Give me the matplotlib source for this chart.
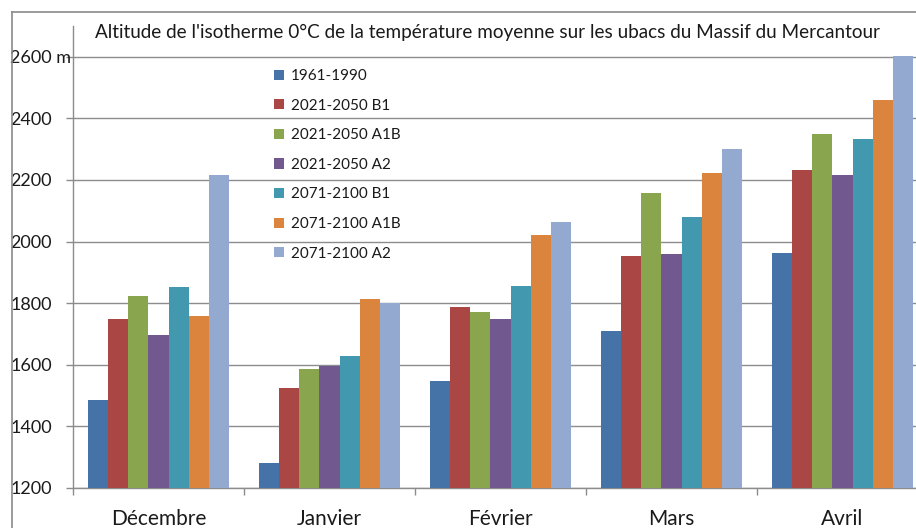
import numpy as np
import matplotlib
matplotlib.use("Agg")
import matplotlib.pyplot as plt
from matplotlib.lines import Line2D

plt.rcParams['font.family'] = ['Lato', 'DejaVu Sans']

months = ['Décembre', 'Janvier', 'Février', 'Mars', 'Avril']
series_names = ['1961-1990', '2021-2050 B1', '2021-2050 A1B', '2021-2050 A2',
                '2071-2100 B1', '2071-2100 A1B', '2071-2100 A2']

ref_1961_1990 = [1485, 1280, 1549, 1710, 1964]
b1_2021_2050 = [1749, 1526, 1789, 1952, 2233]
a1b_2021_2050 = [1823, 1586, 1770, 2159, 2350]
a2_2021_2050 = [1698, 1595, 1748, 1961, 2217]
b1_2071_2100 = [1851, 1629, 1855, 2080, 2334]
a1b_2071_2100 = [1757, 1813, 2020, 2222, 2460]
a2_2071_2100 = [2215, 1800, 2063, 2302, 2603]

series = [ref_1961_1990, b1_2021_2050, a1b_2021_2050, a2_2021_2050,
          b1_2071_2100, a1b_2071_2100, a2_2071_2100]
colors = ['#4572A7', '#AA4643', '#89A54E', '#71588F', '#4198AF', '#DB843D', '#93A9CF']

y_ticks = [1200, 1400, 1600, 1800, 2000, 2200, 2400, 2600]

W, H = 916, 528
fig = plt.figure(figsize=(W / 100, H / 100), dpi=100)
ax = fig.add_axes([73 / W, (H - 488) / H, (928 - 73) / W, 462 / H])

grid_col = '#8c8c8c'
text_col = '#1a1a1a'

# clustered bars, gap width 150% like a spreadsheet chart
n = len(series)
bw = 1.0 / (n + 1.5)
x = np.arange(len(months))
for i, vals in enumerate(series):
    offs = (i - (n - 1) / 2) * bw
    ax.bar(x + offs, np.array(vals) - 1200, bw, bottom=1200, color=colors[i],
           label=series_names[i], zorder=3, linewidth=0)

ax.set_xlim(-0.5, len(months) - 0.5)
ax.set_ylim(1200, 2700)
ax.set_yticks(y_ticks)
ax.set_yticklabels([str(v) + ' m' if v == 2600 else str(v) for v in y_ticks])
ax.yaxis.grid(True, color=grid_col, linewidth=1.0, zorder=0)

ax.set_xticks(np.arange(len(months) + 1) - 0.5)
ax.set_xticklabels([])
ax.set_xticks(x, minor=True)
ax.set_xticklabels(months, minor=True, fontsize=15, color=text_col)
ax.tick_params(axis='x', which='major', length=5, color=grid_col, width=1)
ax.tick_params(axis='x', which='minor', length=0, pad=15)
ax.tick_params(axis='y', length=5, color=grid_col, width=1, pad=40,
               labelsize=13, labelcolor=text_col)
for lbl in ax.get_yticklabels():
    lbl.set_ha('left')

for s in ['top', 'right']:
    ax.spines[s].set_visible(False)
for s in ['left', 'bottom']:
    ax.spines[s].set_color(grid_col)
    ax.spines[s].set_linewidth(1.0)

fig.text(487 / W, 1 - 32 / H,
         "Altitude de l'isotherme 0°C de la température moyenne sur les ubacs du Massif du Mercantour",
         ha='center', va='center', fontsize=13.6, color=text_col)

leg = ax.legend(loc='upper left', bbox_to_anchor=(268 / W, 1 - 63 / H),
                bbox_transform=fig.transFigure, frameon=False, fontsize=11,
                handlelength=0.65, handleheight=0.65, handletextpad=0.45,
                labelspacing=1.02, borderaxespad=0)
for t in leg.get_texts():
    t.set_color(text_col)

# outer chart frame
fig.add_artist(Line2D([12 / W, 12 / W], [0, 1 - 12 / H], transform=fig.transFigure,
                      color='#8a8a8a', linewidth=1.2))
fig.add_artist(Line2D([12 / W, 1], [1 - 12 / H, 1 - 12 / H], transform=fig.transFigure,
                      color='#8a8a8a', linewidth=1.2))

fig.savefig('out.png', dpi=100)
